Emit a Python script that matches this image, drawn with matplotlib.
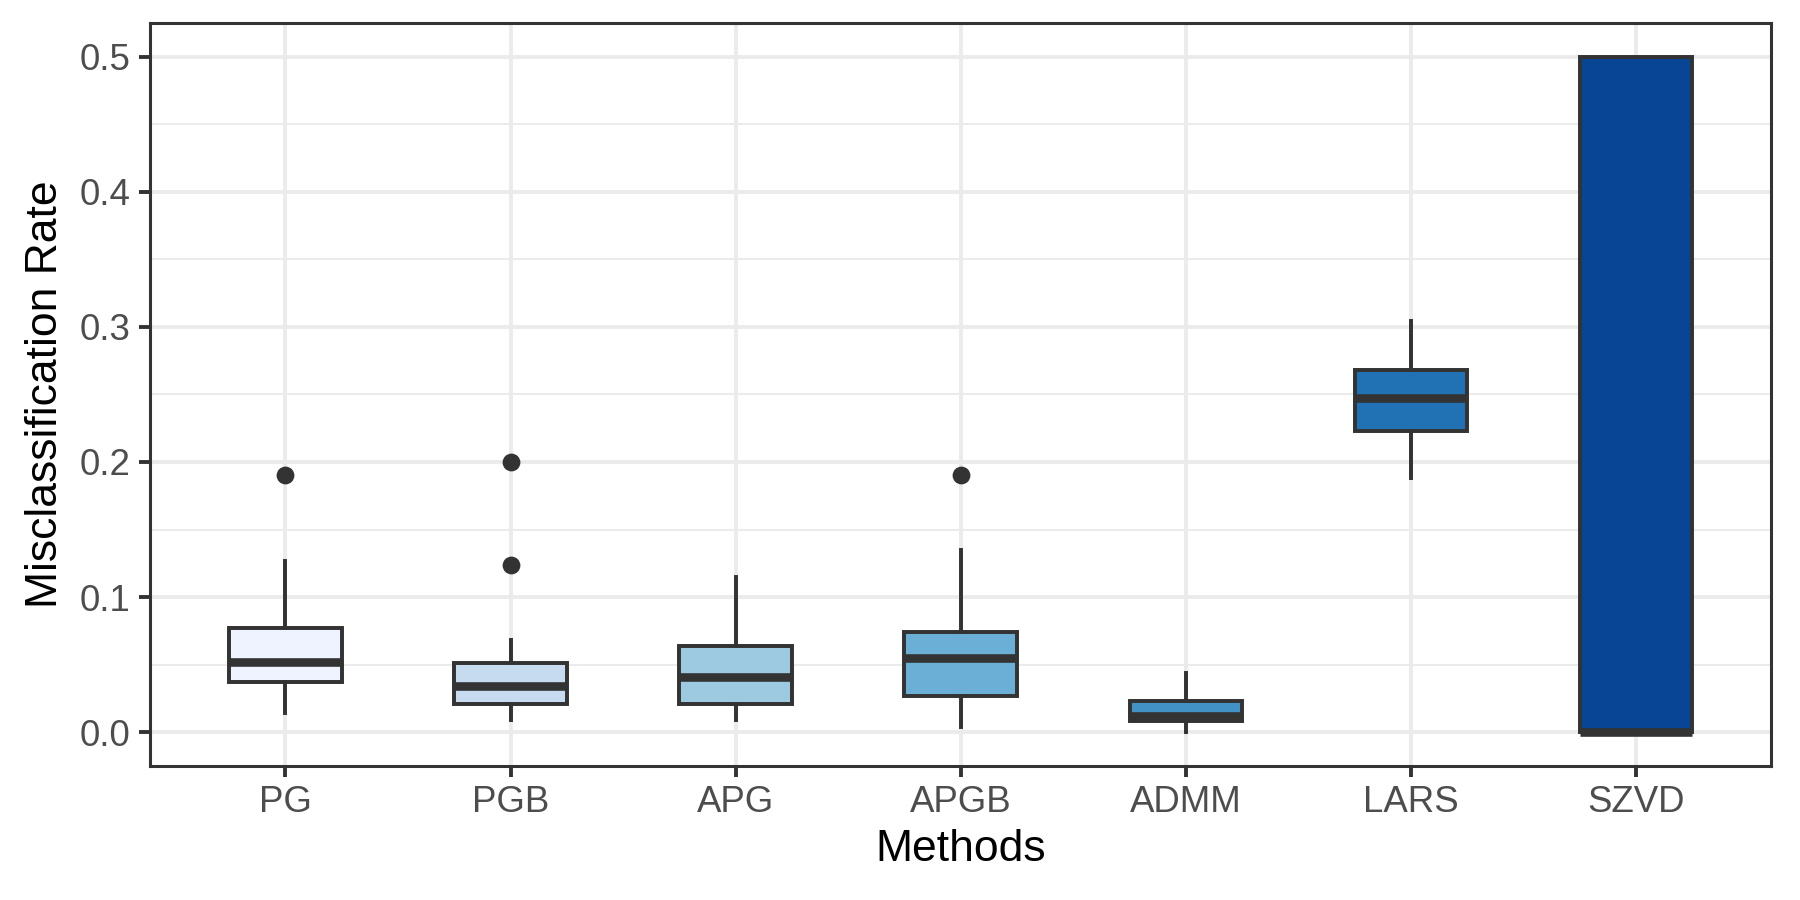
import matplotlib
matplotlib.use("Agg")
import matplotlib.pyplot as plt

# box summaries (misclassification rate)
methods = ["PG", "PGB", "APG", "APGB", "ADMM", "LARS", "SZVD"]
whislo = [0.014, 0.009, 0.009, 0.004, 0.000, 0.188, 0.000]
q1 = [0.037, 0.021, 0.021, 0.027, 0.008, 0.223, 0.000]
med = [0.052, 0.034, 0.041, 0.055, 0.012, 0.247, 0.000]
q3 = [0.077, 0.051, 0.064, 0.074, 0.023, 0.268, 0.500]
whishi = [0.127, 0.068, 0.115, 0.135, 0.044, 0.304, 0.500]
outliers = [[0.190], [0.200, 0.124], [], [0.190], [], [], []]
fills = ["#EFF3FF", "#C6DBEF", "#9ECAE1", "#6BAED6", "#4292C6", "#2171B5", "#084594"]

INK = "#333333"
GRID = "#EBEBEB"
TICK = "#4D4D4D"

plt.rcParams.update({
    "font.family": ["Liberation Sans", "DejaVu Sans"],
    "figure.facecolor": "white",
    "axes.facecolor": "white",
})

stats = []
for i, m in enumerate(methods):
    stats.append({"label": m, "whislo": whislo[i], "q1": q1[i], "med": med[i],
                  "q3": q3[i], "whishi": whishi[i], "fliers": outliers[i]})

fig = plt.figure(figsize=(9, 4.5), dpi=200)
ax = fig.add_axes([0.0835, 0.149, 0.9005, 0.8255])

pos = list(range(1, len(methods) + 1))
bp = ax.bxp(stats, positions=pos, widths=0.5, patch_artist=True, showcaps=False,
            boxprops=dict(edgecolor=INK, linewidth=1.42),
            medianprops=dict(color=INK, linewidth=3.1, solid_capstyle="butt"),
            whiskerprops=dict(color=INK, linewidth=1.42),
            flierprops=dict(marker="o", markerfacecolor=INK, markeredgecolor=INK,
                            markersize=5.4, linestyle="none"),
            zorder=3)
for patch, c in zip(bp["boxes"], fills):
    patch.set_facecolor(c)

ax.set_xlim(0.4, 7.6)
ax.set_ylim(-0.025, 0.525)
ax.set_xticks(pos)
ax.set_xticklabels(methods)
ax.set_yticks([0.0, 0.1, 0.2, 0.3, 0.4, 0.5])
ax.set_yticklabels(["0.0", "0.1", "0.2", "0.3", "0.4", "0.5"])
ax.set_yticks([0.05, 0.15, 0.25, 0.35, 0.45], minor=True)
ax.tick_params(axis="both", which="major", length=4, width=1.4, color=INK,
               labelsize=13.2, labelcolor=TICK, pad=3)
ax.tick_params(axis="y", which="minor", length=0)

ax.grid(True, which="major", color=GRID, linewidth=1.4, zorder=0)
ax.grid(True, which="minor", axis="y", color=GRID, linewidth=0.7, zorder=0)
ax.set_axisbelow(True)
for s in ax.spines.values():
    s.set_color(INK)
    s.set_linewidth(1.1)

ax.set_xlabel("Methods", fontsize=16, color="black", labelpad=3)
ax.set_ylabel("Misclassification Rate", fontsize=16, color="black", labelpad=5)

fig.savefig("out.png", dpi=200)
